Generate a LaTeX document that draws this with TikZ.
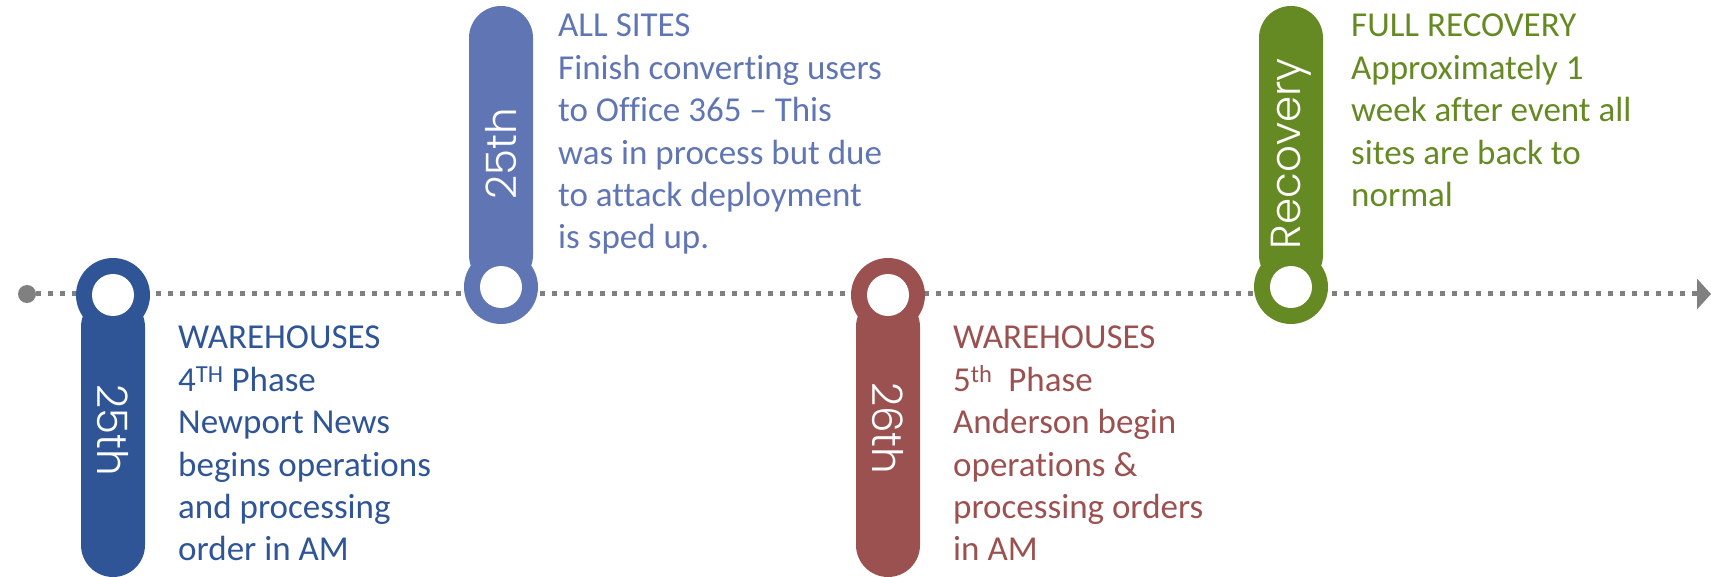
\documentclass[tikz,border=0pt]{standalone}
\usepackage{fontspec}
\setmainfont{Carlito}[Ligatures=NoCommon]
\newfontfamily\datefont{Poppins Light}
\usetikzlibrary{arrows.meta}
\definecolor{navyc}{HTML}{2F5597}
\definecolor{skyc}{HTML}{6075B4}
\definecolor{brickc}{HTML}{9C5151}
\definecolor{olivec}{HTML}{658A23}
\definecolor{linegray}{HTML}{808080}
\begin{document}
\begin{tikzpicture}[x=1pt,y=-1pt,
  note/.style={anchor=north west, inner sep=0pt, align=left,
    font=\fontsize{35}{42.4}\selectfont},
  datelabel/.style={font=\datefont\fontsize{42}{42}\selectfont,
    text=white, inner sep=0pt},
  bar/.style={rounded corners=32pt},
  timeline/.style={line width=5pt, draw=linegray, dash pattern=on 5pt off 7pt,
    -{Triangle[length=14pt,width=30pt,fill=linegray]}}
]
\useasboundingbox (0,0) rectangle (1711,577);

% timeline
\node[circle, fill=linegray, minimum size=18pt, inner sep=0pt] (start) at (27,294) {};
\coordinate (end) at (1711,294);
\draw[timeline] (start) -- (end);

% marker positions
\coordinate (m1) at (113,295);
\coordinate (m2) at (501,287);
\coordinate (m3) at (888,295);
\coordinate (m4) at (1291,287);

% marker 1 (down)
\fill[navyc, bar] (81,295) rectangle (145,577);
\fill[navyc] (m1) circle (37);
\fill[white] (m1) circle (21);
% marker 2 (up)
\fill[skyc, bar] (469,6) rectangle (533,287);
\fill[skyc] (m2) circle (37);
\fill[white] (m2) circle (21);
% marker 3 (down)
\fill[brickc, bar] (856,295) rectangle (920,577);
\fill[brickc] (m3) circle (37);
\fill[white] (m3) circle (21);
% marker 4 (up)
\fill[olivec, bar] (1259,6) rectangle (1323,287);
\fill[olivec] (m4) circle (37);
\fill[white] (m4) circle (21);

% labels on the bars
\node[datelabel, rotate=-90] (d1) at (113,430) {25th};
\node[datelabel, rotate=90] (d2) at (501,154) {25th};
\node[datelabel, rotate=-90] (d3) at (888,428) {26th};
\node[datelabel, rotate=90] (d4) at (1291,154) {Recovery};

% descriptions
\node[note, text=navyc] (t1) at (178,326) {WAREHOUSES\\4\textsuperscript{TH} Phase\\Newport News\\begins operations\\and processing\\order in AM};
\node[note, text=skyc] (t2) at (558,14) {ALL SITES\\Finish converting users\\to Office 365 -- This\\was in process but due\\to attack deployment\\is sped up.};
\node[note, text=brickc] (t3) at (953,326) {WAREHOUSES\\5\textsuperscript{th}\ \ Phase\\Anderson begin\\operations \&\\processing orders\\in AM};
\node[note, text=olivec] (t4) at (1351,14) {FULL RECOVERY\\Approximately 1\\week after event all\\sites are back to\\normal};
\end{tikzpicture}
\end{document}
